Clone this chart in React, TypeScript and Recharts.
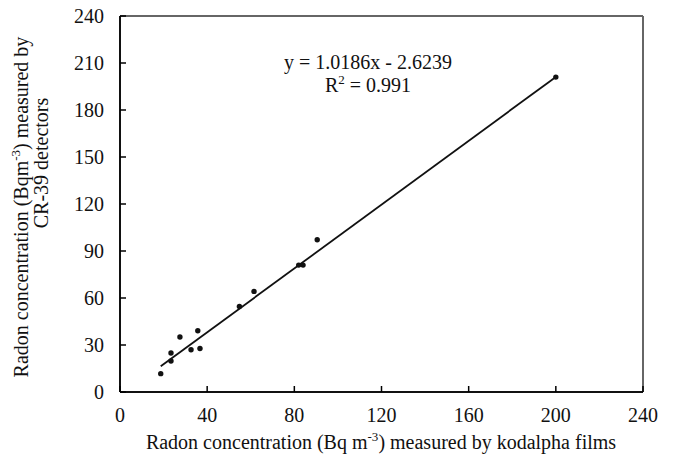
import React from 'react';
import { ScatterChart, Scatter, XAxis, YAxis, ReferenceLine } from 'recharts';

const kodalpha = [18.7, 23.4, 23.4, 27.5, 32.6, 35.7, 36.7, 54.8, 61.5, 82, 84, 90.5, 200];
const cr39 = [11.7, 24.9, 19.8, 35.1, 27, 39.1, 27.8, 54.6, 64.2, 81, 81, 97.2, 201];
const xTicks = [0, 40, 80, 120, 160, 200, 240];
const yTicks = [0, 30, 60, 90, 120, 150, 180, 210, 240];
const slope = 1.0186;
const intercept = -2.6239;
const r2 = '0.991';

const points = kodalpha.map((x, i) => ({ x, y: cr39[i] }));
const xMin = Math.min(...kodalpha);
const xMax = Math.max(...kodalpha);
const fitLine = [
  { x: xMin, y: slope * xMin + intercept },
  { x: xMax, y: slope * xMax + intercept },
];

const FONT = '"Liberation Serif", "Times New Roman", serif';
const FS = 20;
const XM = 10;
const YM = 10;

const XTick = (props: any) => {
  const { x, y, payload } = props;
  const axisY = y - XM;
  return (
    <g>
      <line x1={x} x2={x} y1={axisY} y2={axisY - 6} stroke="#000" strokeWidth={1.5} />
      <text x={x} y={axisY + 30} textAnchor="middle" fontFamily={FONT} fontSize={FS} fill="#111">
        {payload.value}
      </text>
    </g>
  );
};

const YTick = (props: any) => {
  const { x, y, payload } = props;
  const axisX = x + YM;
  return (
    <g>
      <line x1={axisX} x2={axisX + 6} y1={y} y2={y} stroke="#000" strokeWidth={1.5} />
      <text x={axisX - 16} y={y} dy="0.35em" textAnchor="end" fontFamily={FONT} fontSize={FS} fill="#111">
        {payload.value}
      </text>
    </g>
  );
};

const Dot = (props: any) => {
  const { cx, cy } = props;
  return <circle cx={cx} cy={cy} r={2.7} fill="#111" />;
};

const NoDot = () => <g />;

export default function App() {
  return (
    <div style={{ position: 'absolute', left: 0, top: 0, width: 674, height: 464, background: '#fff' }}>
      <ScatterChart width={674} height={464} margin={{ top: 16, right: 31, bottom: 0, left: 0 }}>
        <XAxis
          type="number"
          dataKey="x"
          domain={[0, 240]}
          ticks={xTicks}
          interval={0}
          height={72}
          tickSize={0}
          tickMargin={XM}
          tickLine={false}
          axisLine={{ stroke: '#111', strokeWidth: 2 }}
          tick={<XTick />}
          allowDataOverflow
        />
        <YAxis
          type="number"
          dataKey="y"
          domain={[0, 240]}
          ticks={yTicks}
          interval={0}
          width={120}
          tickSize={0}
          tickMargin={YM}
          tickLine={false}
          axisLine={{ stroke: '#111', strokeWidth: 2 }}
          tick={<YTick />}
          allowDataOverflow
        />
        <ReferenceLine y={240} stroke="#666" strokeWidth={2} />
        <ReferenceLine x={240} stroke="#666" strokeWidth={2} />
        <Scatter data={fitLine} line={{ stroke: '#111', strokeWidth: 1.8 }} shape={<NoDot />} isAnimationActive={false} />
        <Scatter data={points} shape={<Dot />} isAnimationActive={false} />
      </ScatterChart>
      <svg width={674} height={464} style={{ position: 'absolute', left: 0, top: 0, pointerEvents: 'none' }}>
        <text x={368} y={69} textAnchor="middle" fontFamily={FONT} fontSize={FS} fill="#111">
          {`y = ${slope}x - ${Math.abs(intercept)}`}
        </text>
        <text x={368} y={92} textAnchor="middle" fontFamily={FONT} fontSize={FS} fill="#111">
          R<tspan dy={-8} fontSize={13}>2</tspan>
          <tspan dy={8}>{` = ${r2}`}</tspan>
        </text>
        <text x={381} y={449} textAnchor="middle" fontFamily={FONT} fontSize={FS} fill="#111">
          Radon concentration (Bq m<tspan dy={-8} fontSize={13}>-3</tspan>
          <tspan dy={8}>) measured by kodalpha films</tspan>
        </text>
        <text x={28} y={207} textAnchor="middle" fontFamily={FONT} fontSize={FS} fill="#111" transform="rotate(-90, 28, 207)">
          Radon concentration (Bqm<tspan dy={-8} fontSize={13}>-3</tspan>
          <tspan dy={8}>) measured by</tspan>
        </text>
        <text x={48} y={163} textAnchor="middle" fontFamily={FONT} fontSize={FS} fill="#111" transform="rotate(-90, 48, 163)">
          CR-39 detectors
        </text>
      </svg>
    </div>
  );
}
